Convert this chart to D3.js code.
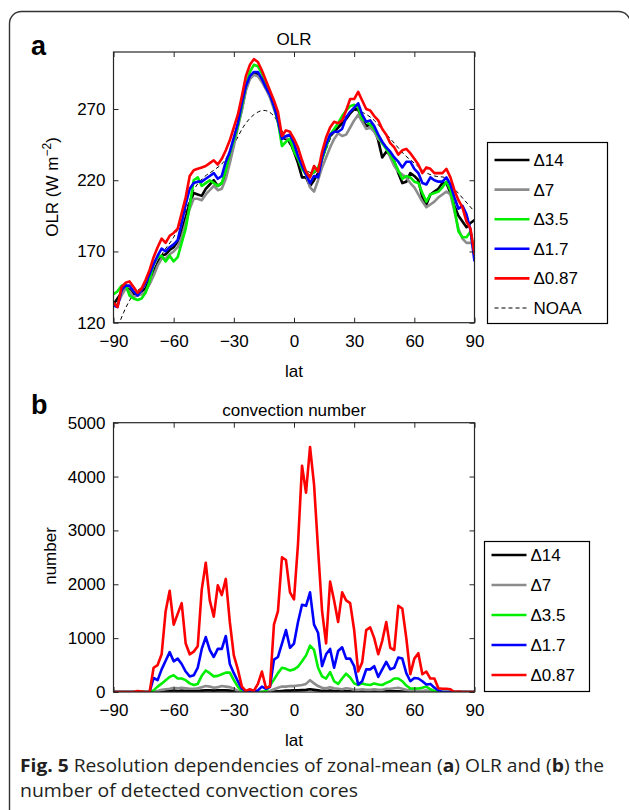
<!DOCTYPE html>
<html><head><meta charset="utf-8">
<script src="https://cdn.jsdelivr.net/npm/d3@7/dist/d3.min.js"></script>
<style>
html,body{margin:0;padding:0;background:#fff;}
svg{display:block;}
</style></head>
<body>
<svg id="fig" width="629" height="810"></svg>
<script>
// ---------- DATA ----------
const lat = [-90,-88,-86,-84,-82,-80,-78,-76,-74,-72,-70,-68,-66,-64,-62,-60,-58,-56,-54,-52,-50,-48,-46,-44,-42,-40,-38,-36,-34,-32,-30,-28,-26,-24,-22,-20,-18,-16,-14,-12,-10,-8,-6,-4,-2,0,2,4,6,8,10,12,14,16,18,20,22,24,26,28,30,32,34,36,38,40,42,44,46,48,50,52,54,56,58,60,62,64,66,68,70,72,74,76,78,80,82,84,86,88,90];

const seriesNames = ["\u039414","\u03947","\u03943.5","\u03941.7","\u03940.87"];
const seriesColors = ["#000000","#8c8c8c","#00ee00","#0000ff","#ff0000"];

// Panel a: zonal-mean OLR (W m-2)
const olrD14 = [133,137,141,145,143,140,141,142,144,150, 155,162,167,168,171,173,177,184,194,204, 211,210,209,214,217,220,216,218,224,234, 246,259,270,284,292,295,294,290,285,279, 273,261,250,249,247,240,232,222,222,216, 220,225,235,244,251,254,257,260,263,267, 270,270,262,258,259,257,248,236,240,238, 233,225,218,219,225,223,220,208,203,210, 212,214,218,218,211,202,195,191,187,190, 192];
const olrD7 = [132,133,139,144,142,138,139,140,142,147, 153,160,165,165,168,170,173,180,190,200, 207,207,206,210,213,216,213,214,221,232, 244,257,269,283,291,294,293,289,284,278, 270,262,252,250,248,242,236,229,224,215, 212,220,229,236,243,249,253,251,252,257, 262,266,261,256,257,254,249,246,243,236, 230,226,224,222,218,215,210,205,201,203, 205,208,210,212,210,198,186,179,176,176, 175];
const olrD35 = [140,142,146,147,139,137,136,137,141,149, 161,166,167,163,167,163,166,176,186,202, 220,222,216,218,220,218,216,218,227,239, 248,258,272,286,296,301,300,295,287,281, 272,261,244,247,249,240,235,228,224,223, 226,229,235,243,252,256,260,265,269,272, 273,271,263,261,259,256,251,246,242,238, 233,227,221,223,222,219,218,211,205,210, 211,212,215,219,213,200,184,180,180,184, 167];
const olrD17 = [132,131,143,146,146,142,139,143,148,154, 161,167,172,170,173,175,178,190,203,214, 218,219,219,221,223,225,221,223,233,240, 250,260,274,286,293,296,296,291,285,280, 272,262,249,251,252,246,237,230,224,218, 223,222,236,245,252,254,254,256,264,268, 271,274,266,261,262,258,252,247,243,240, 236,233,229,233,233,228,225,218,217,222, 220,219,219,222,217,208,200,202,196,185, 163];
const olrD087 = [134,131,145,148,149,145,141,144,150,157, 166,173,179,176,181,183,186,197,208,223, 227,228,229,230,232,234,231,235,241,248, 257,266,279,293,301,305,303,297,290,283, 276,268,251,255,254,249,243,234,226,222, 230,226,240,250,257,261,260,262,269,277, 277,282,276,270,269,265,262,256,252,246, 243,238,241,242,239,235,231,225,229,228, 225,225,225,228,222,213,206,201,191,186, 168];
const noaaLat = [-90,-85,-80,-75,-70,-65,-60,-55,-50,-45,-40,-35,-30,-25,-20,-15,-10,-5,0,5,10,15,20,25,30,35,40,45,50,55,60,65,70,75,80,85,90];
const noaaOLR = [108,127,140,146,157,170,180,195,213,222,227,233,245,258,266,269,265,252,240,228,225,238,255,264,269,267,262,254,246,238,232,226,223,222,214,206,198];

// Panel b: convection number
const cnD14 = [0,0,0,0,0,0,0,0,0,0, 0,0,10,15,20,25,20,25,20,20, 20,20,25,30,30,25,30,30,30,25, 15,5,0,0,0,0,0,0,0,5, 10,15,20,25,25,30,30,35,40,50, 40,30,20,20,25,20,15,15,15,15, 10,10,10,10,10,10,10,10,15,15, 15,15,10,5,0,0,0,0,0,0, 0,0,0,0,0,0,0,0,0,0, 0];
const cnD7 = [0,0,0,0,0,0,0,0,0,0, 0,20,40,50,60,80,70,80,70,60, 60,70,90,110,100,80,90,110,100,90, 60,20,0,0,0,0,0,0,0,20, 50,80,100,100,110,110,120,130,150,220, 160,110,80,70,90,70,60,50,70,60, 40,40,50,40,40,50,40,40,60,60, 70,80,60,40,30,30,20,20,30,10, 0,0,0,0,0,0,0,0,0,0, 0];
const cnD35 = [0,0,0,0,0,0,0,10,0,0, 30,100,155,220,280,310,250,250,220,160, 130,150,300,400,350,290,300,330,360,360, 220,100,10,0,0,0,0,0,20,120, 230,350,450,430,400,420,470,570,680,860, 780,450,290,250,370,200,150,250,340,270, 160,130,160,140,130,160,140,130,170,200, 250,250,200,120,65,65,65,80,100,50, 20,0,0,0,0,0,0,0,0,0, 0];
const cnD17 = [0,0,0,0,0,0,0,0,0,0, 260,220,420,580,740,570,620,520,380,290, 310,450,800,1020,780,650,800,800,1040,520, 350,200,60,10,10,10,30,100,60,90, 600,650,900,1150,820,900,1300,1620,1600,1850, 1250,1100,480,700,800,450,760,830,620,620, 480,140,200,420,420,480,280,420,560,420, 450,640,620,350,200,260,250,200,140,150, 80,30,0,0,0,0,0,0,0,0, 0];
const cnD087 = [0,0,0,0,0,0,20,10,0,0, 450,500,700,1500,1880,1250,1450,1650,900,700, 750,850,1900,2400,1700,1400,1980,1800,2100,1300, 680,420,100,20,50,20,150,380,80,100, 1250,1500,2500,2450,1850,1720,2750,4200,3700,4550, 3850,2650,1500,900,2050,1700,1300,1850,1700,1650, 1150,380,550,1150,1200,1000,700,950,1300,820, 780,1600,1550,1000,330,620,720,330,380,250, 250,70,60,60,50,0,10,0,0,0, 0];

const xTicks = [-90,-60,-30,0,30,60,90];
const yTicksA = [120,170,220,270];
const yTicksB = [0,1000,2000,3000,4000,5000];

// ---------- DRAW ----------
const svg = d3.select("#fig");
const FONT = "'Liberation Sans', Arial, Helvetica, sans-serif";
const fmt = d => (d < 0 ? "\u2212" + Math.abs(d) : String(d));

// outer frame
svg.append("rect").attr("x",9.5).attr("y",11.5).attr("width",621).attr("height",812)
  .attr("rx",12).attr("fill","none").attr("stroke","#333").attr("stroke-width",1.4);

function panel(cfg){
  const g = svg.append("g");
  const x = d3.scaleLinear().domain([-90,90]).range([113.5,474.5]);
  const y = d3.scaleLinear().domain(cfg.ydom).range([cfg.bottom, cfg.top]);
  const clipId = "clip" + cfg.id;
  svg.append("clipPath").attr("id",clipId).append("rect")
    .attr("x",113.5).attr("y",cfg.top).attr("width",361).attr("height",cfg.bottom-cfg.top);

  const lines = g.append("g").attr("clip-path","url(#"+clipId+")");
  const line = d3.line().x((d,i)=>x(lat[i])).y(d=>y(d));
  cfg.series.forEach((s,k)=>{
    lines.append("path").datum(s).attr("d",line).attr("fill","none")
      .attr("stroke",seriesColors[k]).attr("stroke-width",2.6)
      .attr("stroke-linejoin","round");
  });
  if (cfg.noaa){
    const nline = d3.line().x((d,i)=>x(noaaLat[i])).y(d=>y(d)).curve(d3.curveMonotoneX);
    lines.insert("path",":first-child").datum(noaaOLR).attr("d",nline).attr("fill","none")
      .attr("stroke","#000").attr("stroke-width",1).attr("stroke-dasharray","4,3");
  }

  // axes with inward ticks
  const ax = g.append("g").attr("font-family",FONT);
  ax.append("g").attr("transform","translate(0,"+cfg.bottom+")")
    .call(d3.axisBottom(x).tickValues(xTicks).tickSize(-5).tickPadding(12).tickFormat(fmt));
  ax.append("g").attr("transform","translate(0,"+cfg.top+")")
    .call(d3.axisTop(x).tickValues(xTicks).tickSize(-5).tickFormat(""));
  ax.append("g").attr("transform","translate(113.5,0)")
    .call(d3.axisLeft(y).tickValues(cfg.yticks).tickSize(-5).tickPadding(8).tickFormat(fmt));
  ax.append("g").attr("transform","translate(474.5,0)")
    .call(d3.axisRight(y).tickValues(cfg.yticks).tickSize(-5).tickFormat(""));
  ax.selectAll(".domain").remove();
  ax.selectAll(".tick line").attr("stroke","#262626").attr("stroke-width",1);
  ax.selectAll(".tick text").attr("font-size",17).attr("fill","#000").attr("font-family",FONT);
  g.append("rect").attr("x",113.5).attr("y",cfg.top).attr("width",361).attr("height",cfg.bottom-cfg.top)
    .attr("fill","none").attr("stroke","#262626").attr("stroke-width",1.2);

  // titles and labels
  g.append("text").attr("x",294).attr("y",cfg.top-7).attr("text-anchor","middle")
    .attr("font-family",FONT).attr("font-size",17).text(cfg.title);
  g.append("text").attr("x",294).attr("y",cfg.bottom+54).attr("text-anchor","middle")
    .attr("font-family",FONT).attr("font-size",17).text("lat");
  g.append("text").attr("x",31).attr("y",cfg.letterY).attr("font-family",FONT)
    .attr("font-size",27).attr("font-weight","bold").text(cfg.letter);
  const yl = g.append("text").attr("transform","translate("+cfg.ylabX+","+cfg.ylabY+") rotate(-90)")
    .attr("text-anchor","middle").attr("font-family",FONT).attr("font-size",17);
  cfg.ylabel(yl);

  // legend
  const L = cfg.legend;
  const lg = g.append("g");
  lg.append("rect").attr("x",L.x).attr("y",L.y).attr("width",L.w).attr("height",L.h)
    .attr("fill","#fff").attr("stroke","#000").attr("stroke-width",1.2);
  const names = seriesNames.slice(), cols = seriesColors.slice();
  if (cfg.noaa){ names.push("NOAA"); cols.push("#000"); }
  names.forEach((n,i)=>{
    const yy = L.y0 + i*L.dy;
    const dashed = cfg.noaa && i===5;
    lg.append("line").attr("x1",L.x+7).attr("x2",L.x+42).attr("y1",yy).attr("y2",yy)
      .attr("stroke",cols[i]).attr("stroke-width", dashed?1:2.6)
      .attr("stroke-dasharray",dashed?"4,3":null);
    lg.append("text").attr("x",L.x+46).attr("y",yy+6).attr("font-family",FONT)
      .attr("font-size",17).attr("font-weight","normal").attr("fill","#000").text(n);
  });
}

panel({
  id:"a", ydom:[120,310], top:52, bottom:322.7, yticks:yTicksA, title:"OLR",
  series:[olrD14,olrD7,olrD35,olrD17,olrD087], noaa:true,
  letter:"a", letterY:55, ylabX:58, ylabY:187,
  ylabel: t=>{ t.append("tspan").text("OLR  (W m");
               t.append("tspan").attr("dy",-7).attr("font-size",12).text("\u22122");
               t.append("tspan").attr("dy",7).text(")"); },
  legend:{x:487.5,y:142.5,w:120,h:181,y0:160,dy:29.6}
});
panel({
  id:"b", ydom:[0,5000], top:422.7, bottom:692, yticks:yTicksB, title:"convection number",
  series:[cnD14,cnD7,cnD35,cnD17,cnD087], noaa:false,
  letter:"b", letterY:414, ylabX:56, ylabY:556,
  ylabel: t=>{ t.text("number"); },
  legend:{x:484.5,y:541.5,w:105,h:150,y0:555,dy:30}
});

// caption
const CAP = "'Open Sans', 'Noto Sans', sans-serif";
const c1 = svg.append("text").attr("x",20).attr("y",772).attr("font-family",CAP)
  .attr("font-size",18.5).attr("fill","#231f20").attr("textLength",584).attr("lengthAdjust","spacingAndGlyphs");
c1.append("tspan").attr("font-weight","bold").text("Fig. 5");
c1.append("tspan").text(" Resolution dependencies of zonal-mean (");
c1.append("tspan").attr("font-weight","bold").text("a");
c1.append("tspan").text(") OLR and (");
c1.append("tspan").attr("font-weight","bold").text("b");
c1.append("tspan").text(") the");
svg.append("text").attr("x",20).attr("y",797).attr("font-family",CAP)
  .attr("font-size",18.5).attr("fill","#231f20").attr("textLength",338).attr("lengthAdjust","spacingAndGlyphs")
  .text("number of detected convection cores");
</script>
</body></html>
